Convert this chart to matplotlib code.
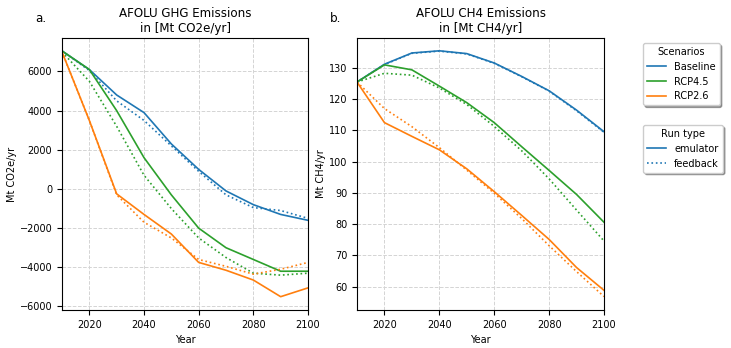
import numpy as np
import matplotlib.pyplot as plt
from matplotlib.lines import Line2D

years = np.arange(2010, 2101, 10)

# AFOLU GHG emissions, Mt CO2e/yr
ghg_baseline_emu = [7050, 6100, 4800, 3900, 2300, 1000, -100, -800, -1300, -1600]
ghg_baseline_fb = [7050, 6050, 4500, 3500, 2200, 900, -300, -950, -1100, -1500]
ghg_rcp45_emu = [7050, 6100, 4000, 1600, -300, -2000, -3000, -3600, -4200, -4200]
ghg_rcp45_fb = [7000, 5500, 3200, 700, -1000, -2500, -3500, -4300, -4400, -4300]
ghg_rcp26_emu = [7000, 3500, -250, -1300, -2300, -3750, -4150, -4650, -5500, -5050]
ghg_rcp26_fb = [7000, 3500, -300, -1700, -2500, -3600, -3950, -4350, -4100, -3750]

# AFOLU CH4 emissions, Mt CH4/yr
ch4_baseline_emu = [125.5, 131.2, 134.8, 135.5, 134.6, 131.6, 127.3, 122.7, 116.5, 109.6]
ch4_baseline_fb = [125.5, 131.1, 134.7, 135.4, 134.5, 131.5, 127.2, 122.6, 116.3, 109.4]
ch4_rcp45_emu = [125.5, 131.0, 129.4, 124.2, 118.9, 112.5, 104.8, 97.2, 89.5, 80.6]
ch4_rcp45_fb = [125.5, 128.3, 127.7, 123.6, 118.3, 111.3, 103.5, 94.5, 84.5, 74.6]
ch4_rcp26_emu = [125.5, 112.5, 108.1, 103.8, 97.7, 90.4, 82.8, 75.1, 66.1, 58.8]
ch4_rcp26_fb = [125.5, 117.0, 111.2, 104.5, 97.3, 89.9, 81.8, 73.1, 64.8, 56.8]

scenarios = ['Baseline', 'RCP4.5', 'RCP2.6']
colors = ['#1f77b4', '#2ca02c', '#ff7f0e']

ghg = {'Baseline': (ghg_baseline_emu, ghg_baseline_fb),
       'RCP4.5': (ghg_rcp45_emu, ghg_rcp45_fb),
       'RCP2.6': (ghg_rcp26_emu, ghg_rcp26_fb)}
ch4 = {'Baseline': (ch4_baseline_emu, ch4_baseline_fb),
       'RCP4.5': (ch4_rcp45_emu, ch4_rcp45_fb),
       'RCP2.6': (ch4_rcp26_emu, ch4_rcp26_fb)}

plt.rcParams['font.size'] = 7

fig = plt.figure(figsize=(7.31, 3.48), dpi=100)
ax1 = fig.add_axes([62 / 731, 1 - 310 / 348, 246 / 731, 272 / 348])
ax2 = fig.add_axes([357 / 731, 1 - 310 / 348, 247 / 731, 272 / 348])

for ax, data in [(ax1, ghg), (ax2, ch4)]:
    for name, c in zip(scenarios, colors):
        emu, fb = data[name]
        ax.plot(years, emu, color=c, lw=1.2)
        ax.plot(years, fb, color=c, lw=1.2, ls=':')
    ax.grid(True, ls='--', color='#d4d4d4', lw=0.7)
    ax.set_xlim(2010, 2100)
    ax.set_xticks([2020, 2040, 2060, 2080, 2100])
    ax.set_xlabel('Year')

ax1.set_ylim(-6180, 7710)
ax1.set_yticks(np.arange(-6000, 6001, 2000))
ax1.set_ylabel('Mt CO2e/yr', labelpad=2)
ax1.set_title('AFOLU GHG Emissions\nin [Mt CO2e/yr]', fontsize=8.6, pad=4.5)
ax1.text(-0.11, 1.06, 'a.', transform=ax1.transAxes, fontsize=8.6)

ax2.set_ylim(52.5, 139.6)
ax2.set_yticks(np.arange(60, 131, 10))
ax2.set_ylabel('Mt CH4/yr', labelpad=2)
ax2.set_title('AFOLU CH4 Emissions\nin [Mt CH4/yr]', fontsize=8.6, pad=4.5)
ax2.text(-0.11, 1.06, 'b.', transform=ax2.transAxes, fontsize=8.6)

shadow = {'ox': 1.5, 'oy': -1.5}
scen_handles = [Line2D([], [], color=c, lw=1.2) for c in colors]
fig.legend(scen_handles, scenarios, title='Scenarios',
           loc='upper left', bbox_to_anchor=(643 / 731, 1 - 43 / 348),
           borderaxespad=0, shadow=shadow, fontsize=7, title_fontsize=7,
           framealpha=1)
run_handles = [Line2D([], [], color=colors[0], lw=1.2),
               Line2D([], [], color=colors[0], lw=1.2, ls=':')]
fig.legend(run_handles, ['emulator', 'feedback'], title='Run type',
           loc='upper left', bbox_to_anchor=(643 / 731, 1 - 125 / 348),
           borderaxespad=0, shadow=shadow, fontsize=7, title_fontsize=7,
           framealpha=1)

fig.savefig('out.png', dpi=100)
